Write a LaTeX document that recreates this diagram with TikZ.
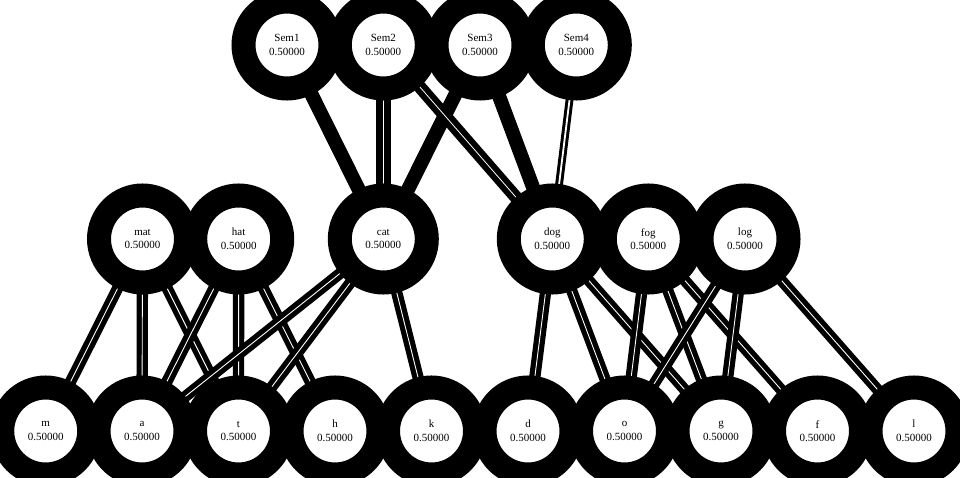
\documentclass[tikz,border=0pt]{standalone}
\usepackage{fontspec}
\setmainfont{Liberation Serif}
\usetikzlibrary{backgrounds}
\begin{document}
\begin{tikzpicture}[x=1pt,y=-1pt,
  nd/.style={circle,draw=black,line width=24pt,fill=white,minimum size=87pt,inner sep=0pt,align=center,font=\fontsize{11}{13.5}\selectfont},
  solidedge/.style={line width=14pt},
  dbledge/.style={line width=5.2pt,double=white,double distance=0.9pt},
  wideedge/.style={line width=7pt,double=white,double distance=0.8pt},
  midedge/.style={line width=6pt,double=white,double distance=0.8pt},
  thinedge/.style={line width=3pt,double=white,double distance=1.8pt}]
\useasboundingbox (0,0) rectangle (960,478);
\clip (0,0) rectangle (960,478);
% top row
\node[nd] (Sem1) at (287,45) {Sem1\\0.50000};
\node[nd] (Sem2) at (383.3,45) {Sem2\\0.50000};
\node[nd] (Sem3) at (480,45) {Sem3\\0.50000};
\node[nd] (Sem4) at (576.3,45) {Sem4\\0.50000};
% middle row
\node[nd] (mat) at (142.5,239) {mat\\0.50000};
\node[nd] (hat) at (238.7,239) {hat\\0.50000};
\node[nd] (cat) at (383.3,239) {cat\\0.50000};
\node[nd] (dog) at (552.3,239) {dog\\0.50000};
\node[nd] (fog) at (648.3,239) {fog\\0.50000};
\node[nd] (log) at (745,239) {log\\0.50000};
% bottom row
\node[nd] (m) at (45.7,431) {m\\0.50000};
\node[nd] (a) at (142,431) {a\\0.50000};
\node[nd] (t) at (238.5,431) {t\\0.50000};
\node[nd] (h) at (335,431) {h\\0.50000};
\node[nd] (k) at (431.5,431) {k\\0.50000};
\node[nd] (d) at (528,431) {d\\0.50000};
\node[nd] (o) at (624.5,431) {o\\0.50000};
\node[nd] (g) at (721,431) {g\\0.50000};
\node[nd] (f) at (817.5,431) {f\\0.50000};
\node[nd] (l) at (914,431) {l\\0.50000};
\begin{pgfonlayer}{background}
\draw[solidedge] (Sem1.center) -- (cat.center);
\draw[wideedge] (Sem2.center) -- (cat.center);
\draw[solidedge] (Sem3.center) -- (cat.center);
\draw[midedge] (Sem2.center) -- (dog.center);
\draw[solidedge] (Sem3.center) -- (dog.center);
\draw[thinedge] (Sem4.center) -- (dog.center);
\draw[dbledge] (mat.center) -- (m.center);
\draw[dbledge] (mat.center) -- (a.center);
\draw[dbledge] (mat.center) -- (t.center);
\draw[dbledge] (hat.center) -- (a.center);
\draw[dbledge] (hat.center) -- (t.center);
\draw[dbledge] (hat.center) -- (h.center);
\draw[dbledge] (cat.center) -- (a.center);
\draw[dbledge] (cat.center) -- (t.center);
\draw[dbledge] (cat.center) -- (k.center);
\draw[dbledge] (dog.center) -- (d.center);
\draw[dbledge] (dog.center) -- (o.center);
\draw[dbledge] (dog.center) -- (g.center);
\draw[dbledge] (fog.center) -- (o.center);
\draw[dbledge] (fog.center) -- (g.center);
\draw[dbledge] (fog.center) -- (f.center);
\draw[dbledge] (log.center) -- (o.center);
\draw[dbledge] (log.center) -- (g.center);
\draw[dbledge] (log.center) -- (l.center);
\end{pgfonlayer}
\end{tikzpicture}
\end{document}
